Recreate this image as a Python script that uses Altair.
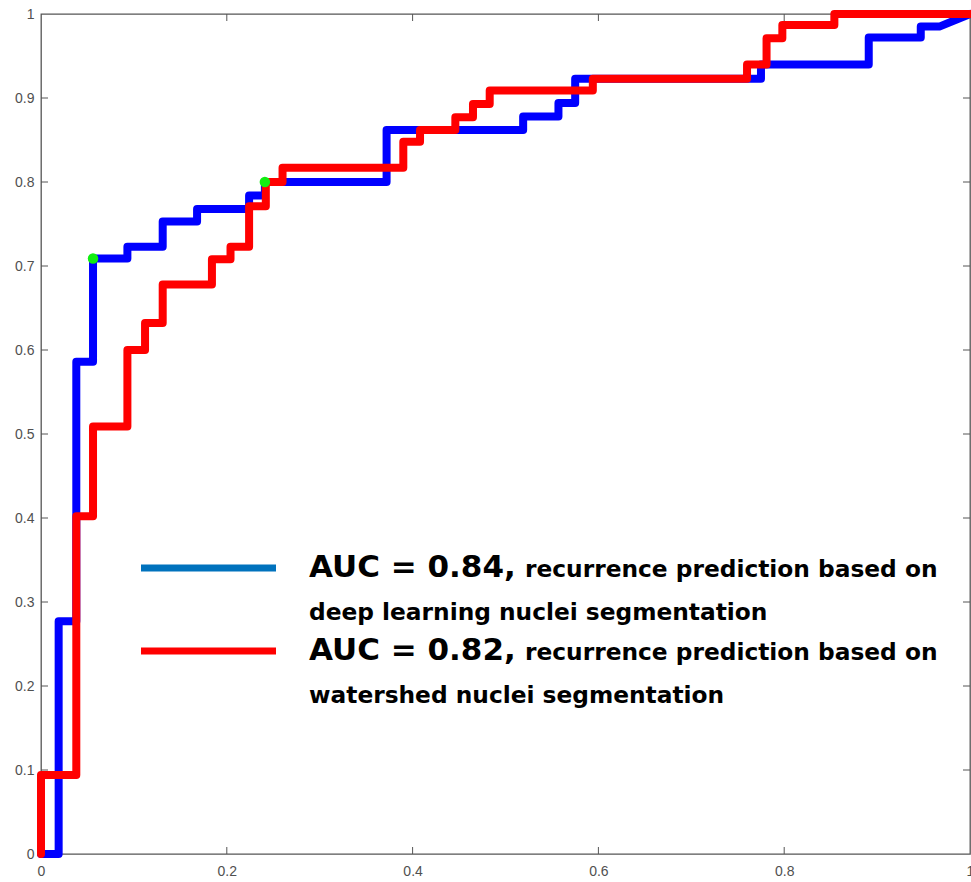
import altair as alt
import pandas as pd

# ROC curve vertices (false positive rate, true positive rate)
blue_fpr = [0, 0.019, 0.019, 0.038, 0.038, 0.056, 0.056, 0.093, 0.093, 0.131, 0.131,
            0.168, 0.168, 0.224, 0.224, 0.241, 0.241, 0.372, 0.372, 0.519, 0.519,
            0.557, 0.557, 0.575, 0.575, 0.775, 0.775, 0.891, 0.891, 0.947, 0.947,
            0.967, 1.0]
blue_tpr = [0, 0, 0.277, 0.277, 0.586, 0.586, 0.709, 0.709, 0.723, 0.723, 0.753,
            0.753, 0.768, 0.768, 0.784, 0.784, 0.80, 0.80, 0.862, 0.862, 0.878,
            0.878, 0.894, 0.894, 0.923, 0.923, 0.940, 0.940, 0.972, 0.972, 0.985,
            0.985, 1.0]

red_fpr = [0, 0, 0.038, 0.038, 0.056, 0.056, 0.093, 0.093, 0.112, 0.112, 0.131, 0.131,
           0.184, 0.184, 0.204, 0.204, 0.224, 0.224, 0.242, 0.242, 0.260, 0.260,
           0.390, 0.390, 0.408, 0.408, 0.446, 0.446, 0.465, 0.465, 0.483, 0.483,
           0.594, 0.594, 0.760, 0.760, 0.781, 0.781, 0.798, 0.798, 0.854, 0.854, 1.0]
red_tpr = [0, 0.094, 0.094, 0.402, 0.402, 0.509, 0.509, 0.600, 0.600, 0.632, 0.632,
           0.678, 0.678, 0.708, 0.708, 0.723, 0.723, 0.771, 0.771, 0.80, 0.80,
           0.817, 0.817, 0.848, 0.848, 0.862, 0.862, 0.877, 0.877, 0.893, 0.893,
           0.909, 0.909, 0.923, 0.923, 0.940, 0.940, 0.971, 0.971, 0.987, 0.987,
           1.0, 1.0]

# operating points (green markers)
op_fpr = [0.056, 0.241]
op_tpr = [0.709, 0.80]

# tick values
x_ticks = [0, 0.2, 0.4, 0.6, 0.8, 1]
y_ticks = [0, 0.1, 0.2, 0.3, 0.4, 0.5, 0.6, 0.7, 0.8, 0.9, 1]
x_inner = [0.2, 0.4, 0.6, 0.8]
y_inner = [0.1, 0.2, 0.3, 0.4, 0.5, 0.6, 0.7, 0.8, 0.9]

# legend texts
auc_labels = ["AUC = 0.84,", "AUC = 0.82,"]
desc_line1 = ["recurrence prediction based on", "recurrence prediction based on"]
desc_line2 = ["deep learning nuclei segmentation", "watershed nuclei segmentation"]

W, H = 929, 840
xs = alt.Scale(domain=[0, 1], nice=False, zero=False)
ys = alt.Scale(domain=[0, 1], nice=False, zero=False)

axis_common = dict(title=None, ticks=False, domain=False, grid=False,
                   labelColor="#505050", labelFont="Liberation Sans",
                   labelFontSize=14, labelFlush=False, labelOverlap=False,
                   format="~g")
ax_x = alt.Axis(values=x_ticks, labelPadding=10, **axis_common)
ax_y = alt.Axis(values=y_ticks, labelPadding=7, **axis_common)

blue_df = pd.DataFrame({"fpr": blue_fpr, "tpr": blue_tpr, "i": range(len(blue_fpr))})
red_df = pd.DataFrame({"fpr": red_fpr, "tpr": red_tpr, "i": range(len(red_fpr))})
op_df = pd.DataFrame({"fpr": op_fpr, "tpr": op_tpr})


def X(f):
    return alt.X(f, scale=xs, axis=ax_x, title=None)


def Y(f):
    return alt.Y(f, scale=ys, axis=ax_y, title=None)


blue = alt.Chart(blue_df).mark_line(
    color="#0000ff", strokeWidth=8, strokeJoin="round", strokeCap="round", clip=False
).encode(x=X("fpr:Q"), y=Y("tpr:Q"), order="i:Q")

red = alt.Chart(red_df).mark_line(
    color="#ff0000", strokeWidth=8, strokeJoin="round", strokeCap="round", clip=False
).encode(x=X("fpr:Q"), y=Y("tpr:Q"), order="i:Q")

pts = alt.Chart(op_df).mark_point(
    filled=True, color="#11ee11", size=110, opacity=1, shape="circle"
).encode(x=X("fpr:Q"), y=Y("tpr:Q"))

tick_color = "#555555"
xt_df = pd.DataFrame({"fpr": x_inner})
yt_df = pd.DataFrame({"tpr": y_inner})
tick_bottom = alt.Chart(xt_df).mark_rule(color=tick_color, strokeWidth=1).encode(
    x=X("fpr:Q"), y=alt.value(H), y2=alt.value(H - 7))
tick_top = alt.Chart(xt_df).mark_rule(color=tick_color, strokeWidth=1).encode(
    x=X("fpr:Q"), y=alt.value(0), y2=alt.value(7))
tick_left = alt.Chart(yt_df).mark_rule(color=tick_color, strokeWidth=1).encode(
    y=Y("tpr:Q"), x=alt.value(0), x2=alt.value(7))
tick_right = alt.Chart(yt_df).mark_rule(color=tick_color, strokeWidth=1).encode(
    y=Y("tpr:Q"), x=alt.value(W), x2=alt.value(W - 7))

# legend (annotation)
leg_colors = ["#0072BD", "#ff0000"]
leg_layers = []
for k in range(2):
    dy = 83 * k
    lab_df = pd.DataFrame({"a": [auc_labels[k]], "b": [desc_line1[k]], "c": [desc_line2[k]]})
    base = alt.Chart(lab_df)
    leg_layers.append(base.mark_rule(color=leg_colors[k], strokeWidth=7).encode(
        x=alt.value(100), x2=alt.value(235), y=alt.value(554 + dy)))
    leg_layers.append(base.mark_text(
        align="left", baseline="alphabetic", font="DejaVu Sans", fontWeight="bold",
        fontSize=31, color="#000000").encode(
        x=alt.value(268), y=alt.value(563 + dy), text="a:N"))
    leg_layers.append(base.mark_text(
        align="left", baseline="alphabetic", font="DejaVu Sans", fontWeight="bold",
        fontSize=23.3, color="#000000").encode(
        x=alt.value(484), y=alt.value(563 + dy), text="b:N"))
    leg_layers.append(base.mark_text(
        align="left", baseline="alphabetic", font="DejaVu Sans", fontWeight="bold",
        fontSize=23.3, color="#000000").encode(
        x=alt.value(268), y=alt.value(606 + dy), text="c:N"))

chart = alt.layer(
    blue, red, pts, tick_bottom, tick_top, tick_left, tick_right, *leg_layers
).properties(
    width=W, height=H,
    autosize=alt.AutoSizeParams(type="none"),
    padding={"left": 41, "top": 14, "right": 1, "bottom": 28},
    background="#ffffff",
).configure_view(stroke="#555555", strokeWidth=1.3)

chart.save("out.html", embed_options={"renderer": "svg", "actions": False})
